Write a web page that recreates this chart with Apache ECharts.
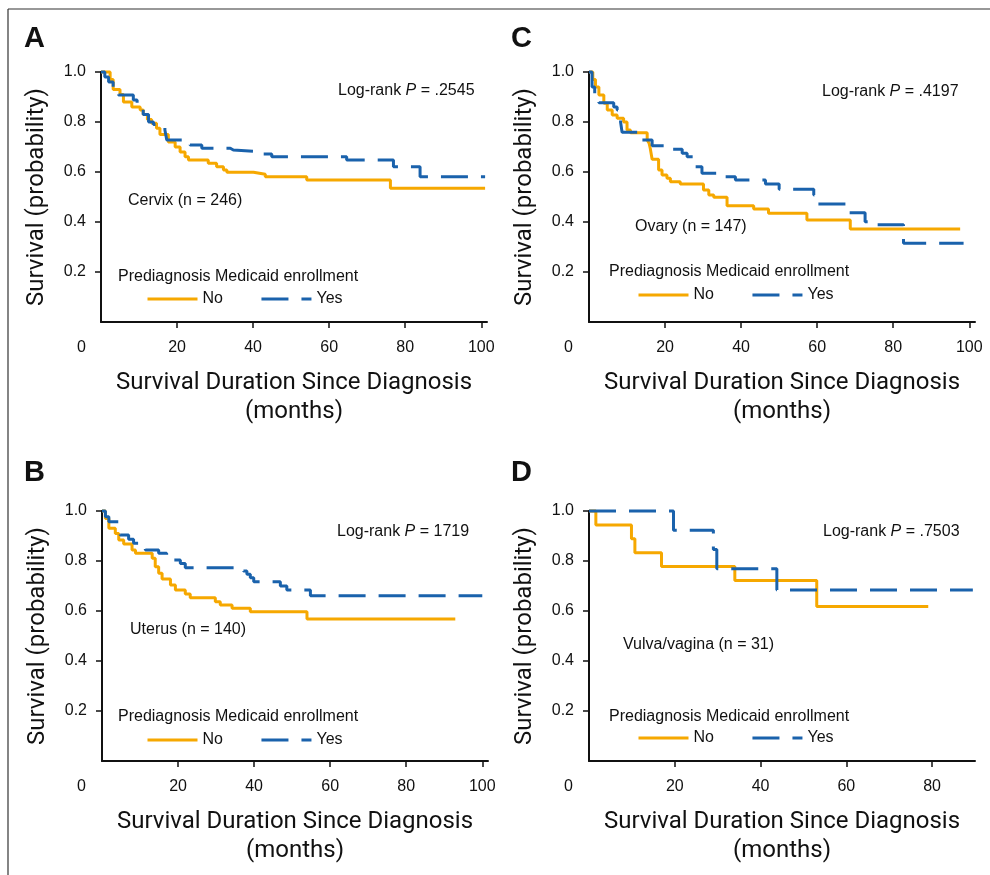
<!DOCTYPE html>
<html>
<head>
<meta charset="utf-8">
<title>Survival by prediagnosis Medicaid enrollment</title>
<script src="https://cdn.jsdelivr.net/npm/echarts@6/dist/echarts.min.js"></script>
<style>
html, body { margin: 0; padding: 0; background: #fff; }
#main { width: 990px; height: 875px; }
</style>
</head>
<body>
<div id="main"></div>
<script>
// tick labels
var yTicks = [0.2, 0.4, 0.6, 0.8, 1.0];
var xTicks = [20, 40, 60, 80, 100];
var xTicksVulva = [20, 40, 60, 80];

// A - cervix
var cervixNoMonths = [0, 2.4, 3.2, 5.0, 5.9, 8.1, 10.3, 11.1, 12.2, 13.3, 14.6, 15.5, 17.7, 19.5, 20.8, 22.1, 23.0, 28.2, 30.4, 32.2, 33.1, 40.1, 43.2, 54.1, 76.1, 101];
var cervixNoSurv   = [1.0, 0.97, 0.93, 0.91, 0.88, 0.86, 0.848, 0.83, 0.81, 0.795, 0.775, 0.75, 0.72, 0.70, 0.68, 0.661, 0.648, 0.635, 0.621, 0.608, 0.599, 0.591, 0.581, 0.568, 0.535, 0.535];
var cervixYesMonths = [0, 1.0, 2.0, 3.2, 4.6, 8.5, 9.5, 10.5, 11.1, 12.5, 13.8, 15.0, 16.8, 17.3, 23.4, 26.5, 34.0, 34.8, 42.3, 44.9, 64.6, 76.9, 83.9, 101];
var cervixYesSurv   = [1.0, 0.98, 0.96, 0.93, 0.908, 0.888, 0.87, 0.85, 0.83, 0.80, 0.79, 0.78, 0.768, 0.728, 0.708, 0.695, 0.688, 0.681, 0.672, 0.661, 0.648, 0.621, 0.581, 0.581];

// B - uterus
var uterusNoMonths = [0, 0.9, 1.8, 3.5, 4.4, 5.7, 7.9, 8.8, 13.2, 14.0, 14.9, 15.8, 18.0, 19.3, 21.9, 23.2, 29.8, 31.1, 34.2, 39.0, 53.9, 92.9];
var uterusNoSurv   = [1.0, 0.97, 0.931, 0.91, 0.884, 0.868, 0.844, 0.831, 0.811, 0.777, 0.751, 0.728, 0.704, 0.684, 0.668, 0.653, 0.637, 0.624, 0.611, 0.597, 0.568, 0.568];
var uterusYesMonths = [0, 0.9, 1.8, 4.4, 4.8, 7.0, 8.3, 10.0, 11.4, 14.9, 17.0, 18.8, 20.6, 21.9, 37.2, 38.1, 39.0, 39.9, 46.9, 48.6, 54.8, 100];
var uterusYesSurv   = [1.0, 0.977, 0.957, 0.93, 0.904, 0.887, 0.871, 0.857, 0.844, 0.831, 0.817, 0.804, 0.79, 0.773, 0.76, 0.747, 0.733, 0.717, 0.70, 0.684, 0.661, 0.661];

// C - ovary
var ovaryNoMonths = [0, 1.0, 1.7, 2.6, 3.9, 4.8, 6.1, 7.4, 9.1, 10.0, 10.9, 15.3, 15.8, 16.1, 16.6, 18.3, 19.2, 20.5, 21.4, 24.0, 30.1, 31.5, 32.8, 36.3, 43.3, 47.2, 57.3, 68.7, 97.6];
var ovaryNoSurv   = [1.0, 0.97, 0.94, 0.908, 0.875, 0.848, 0.828, 0.815, 0.80, 0.768, 0.757, 0.728, 0.715, 0.695, 0.651, 0.608, 0.588, 0.575, 0.561, 0.552, 0.528, 0.508, 0.499, 0.465, 0.452, 0.435, 0.408, 0.372, 0.372];
var ovaryYesMonths = [0, 0.8, 1.5, 2.6, 6.5, 7.4, 8.3, 8.7, 14.0, 16.6, 21.8, 24.5, 25.8, 28.0, 29.7, 35.8, 38.5, 46.4, 50.0, 59.1, 60.0, 68.5, 72.6, 75.7, 82.7, 98.5];
var ovaryYesSurv   = [1.0, 0.94, 0.908, 0.877, 0.86, 0.848, 0.80, 0.759, 0.728, 0.705, 0.691, 0.675, 0.661, 0.621, 0.595, 0.581, 0.568, 0.552, 0.531, 0.508, 0.472, 0.437, 0.401, 0.389, 0.315, 0.315];

// D - vulva/vagina
var vulvaNoMonths = [0, 1.6, 9.9, 10.7, 16.9, 34.0, 53.1, 79.1];
var vulvaNoSurv   = [1.0, 0.944, 0.889, 0.833, 0.778, 0.722, 0.618, 0.618];
var vulvaYesMonths = [0, 19.7, 29.0, 29.8, 43.8, 89.5];
var vulvaYesSurv   = [1.0, 0.923, 0.846, 0.769, 0.684, 0.684];

var orange = '#f6a800';
var blue = '#1a62ac';
var ink = '#111';
var textFont = "'Liberation Sans', Arial, sans-serif";
var nameFont = "Roboto, 'Liberation Sans', sans-serif";

function pairs(t, s) {
    return t.map(function (m, i) { return [m, s[i]]; });
}

function xAxisFor(i, max, ticks) {
    return {
        gridIndex: i, type: 'value', min: 0, max: max,
        name: 'Survival Duration Since Diagnosis\n(months)',
        nameLocation: 'middle', nameGap: 46,
        nameTextStyle: { fontFamily: nameFont, fontSize: 24, color: ink, lineHeight: 29 },
        axisLine: { show: true, onZero: false, lineStyle: { color: ink, width: 2 } },
        axisTick: { show: true, length: 6, customValues: ticks, lineStyle: { color: ink, width: 1.5 } },
        axisLabel: { customValues: ticks, margin: 18, fontSize: 16, color: ink, fontFamily: textFont },
        splitLine: { show: false }
    };
}

function yAxisFor(i) {
    return {
        gridIndex: i, type: 'value', min: 0, max: 1, interval: 0.2,
        name: 'Survival (probability)',
        nameLocation: 'middle', nameGap: 52,
        nameTextStyle: { fontFamily: nameFont, fontSize: 24, color: ink },
        axisLine: { show: true, onZero: false, lineStyle: { color: ink, width: 2 } },
        axisTick: { show: true, length: 6, customValues: yTicks, lineStyle: { color: ink, width: 1.5 } },
        axisLabel: {
            customValues: yTicks, margin: 15, fontSize: 16, color: ink, fontFamily: textFont,
            formatter: function (v) { return v.toFixed(1); }
        },
        splitLine: { show: false }
    };
}

function curve(name, i, t, s) {
    var isYes = name === 'Yes';
    return {
        name: name, type: 'line', xAxisIndex: i, yAxisIndex: i,
        step: 'end', symbol: 'none', clip: false, z: isYes ? 3 : 2,
        lineStyle: { color: isYes ? blue : orange, width: 3, type: isYes ? [27, 13] : 'solid', cap: 'butt' },
        itemStyle: { color: isYes ? blue : orange },
        data: pairs(t, s)
    };
}

function legendAt(left, top) {
    return {
        left: left, top: top, padding: 0, orient: 'horizontal',
        data: ['No', 'Yes'], selectedMode: false,
        itemWidth: 50, itemHeight: 14, itemGap: 37,
        // line only, no marker in the key
        itemStyle: { opacity: 0 },
        lineStyle: { width: 3 },
        textStyle: { fontSize: 16, color: ink, fontFamily: textFont }
    };
}

function label(x, y, text, size, extra) {
    var st = { text: text, fontSize: size || 16, fontFamily: textFont, fill: ink, align: 'left', verticalAlign: 'middle' };
    if (extra) { for (var k in extra) st[k] = extra[k]; }
    return { type: 'text', x: x, y: y, style: st };
}

function logRank(x, y, p) {
    return label(x, y, 'Log-rank {it|P} = ' + p, 16, {
        rich: { it: { fontStyle: 'italic', fontSize: 16, fontFamily: textFont, fill: ink } }
    });
}

var dom = document.getElementById('main');
var myChart = echarts.init(dom, null, { renderer: 'canvas' });

var option = {
    animation: false,
    backgroundColor: '#fff',
    grid: [
        { left: 101, top: 72, width: 386, height: 250, outerBoundsMode: 'none' },
        { left: 102, top: 511, width: 386, height: 250, outerBoundsMode: 'none' },
        { left: 589, top: 72, width: 386, height: 250, outerBoundsMode: 'none' },
        { left: 589, top: 511, width: 386, height: 250, outerBoundsMode: 'none' }
    ],
    xAxis: [
        xAxisFor(0, 101.5, xTicks),
        xAxisFor(1, 101.5, xTicks),
        xAxisFor(2, 101.5, xTicks),
        xAxisFor(3, 90, xTicksVulva)
    ],
    yAxis: [yAxisFor(0), yAxisFor(1), yAxisFor(2), yAxisFor(3)],
    legend: [
        legendAt(146, 291),
        legendAt(146, 732),
        legendAt(637, 287),
        legendAt(637, 730)
    ],
    series: [
        curve('No', 0, cervixNoMonths, cervixNoSurv),
        curve('Yes', 0, cervixYesMonths, cervixYesSurv),
        curve('No', 1, uterusNoMonths, uterusNoSurv),
        curve('Yes', 1, uterusYesMonths, uterusYesSurv),
        curve('No', 2, ovaryNoMonths, ovaryNoSurv),
        curve('Yes', 2, ovaryYesMonths, ovaryYesSurv),
        curve('No', 3, vulvaNoMonths, vulvaNoSurv),
        curve('Yes', 3, vulvaYesMonths, vulvaYesSurv)
    ],
    graphic: [
        // figure frame (top and left edges)
        { type: 'line', shape: { x1: 8, y1: 9, x2: 990, y2: 9 }, style: { stroke: '#333', lineWidth: 1.2 } },
        { type: 'line', shape: { x1: 8, y1: 9, x2: 8, y2: 875 }, style: { stroke: '#333', lineWidth: 1.2 } },
        // panel letters
        label(24, 39, 'A', 29, { fontWeight: 'bold' }),
        label(24, 473, 'B', 29, { fontWeight: 'bold' }),
        label(511, 39, 'C', 29, { fontWeight: 'bold' }),
        label(511, 473, 'D', 29, { fontWeight: 'bold' }),
        // shared origin labels
        label(77, 348, '0'),
        label(77, 787, '0'),
        label(564, 348, '0'),
        label(564, 787, '0'),
        // log-rank tests
        logRank(338, 91, '.2545'),
        logRank(337, 532, '1719'),
        logRank(822, 92, '.4197'),
        logRank(823, 532, '.7503'),
        // site labels
        label(128, 201, 'Cervix (n = 246)'),
        label(130, 630, 'Uterus (n = 140)'),
        label(635, 227, 'Ovary (n = 147)'),
        label(623, 645, 'Vulva/vagina (n = 31)'),
        // legend titles
        label(118, 277, 'Prediagnosis Medicaid enrollment'),
        label(118, 717, 'Prediagnosis Medicaid enrollment'),
        label(609, 272, 'Prediagnosis Medicaid enrollment'),
        label(609, 717, 'Prediagnosis Medicaid enrollment')
    ]
};

if (option && typeof option === 'object') {
    myChart.setOption(option, true);
}
</script>
</body>
</html>
